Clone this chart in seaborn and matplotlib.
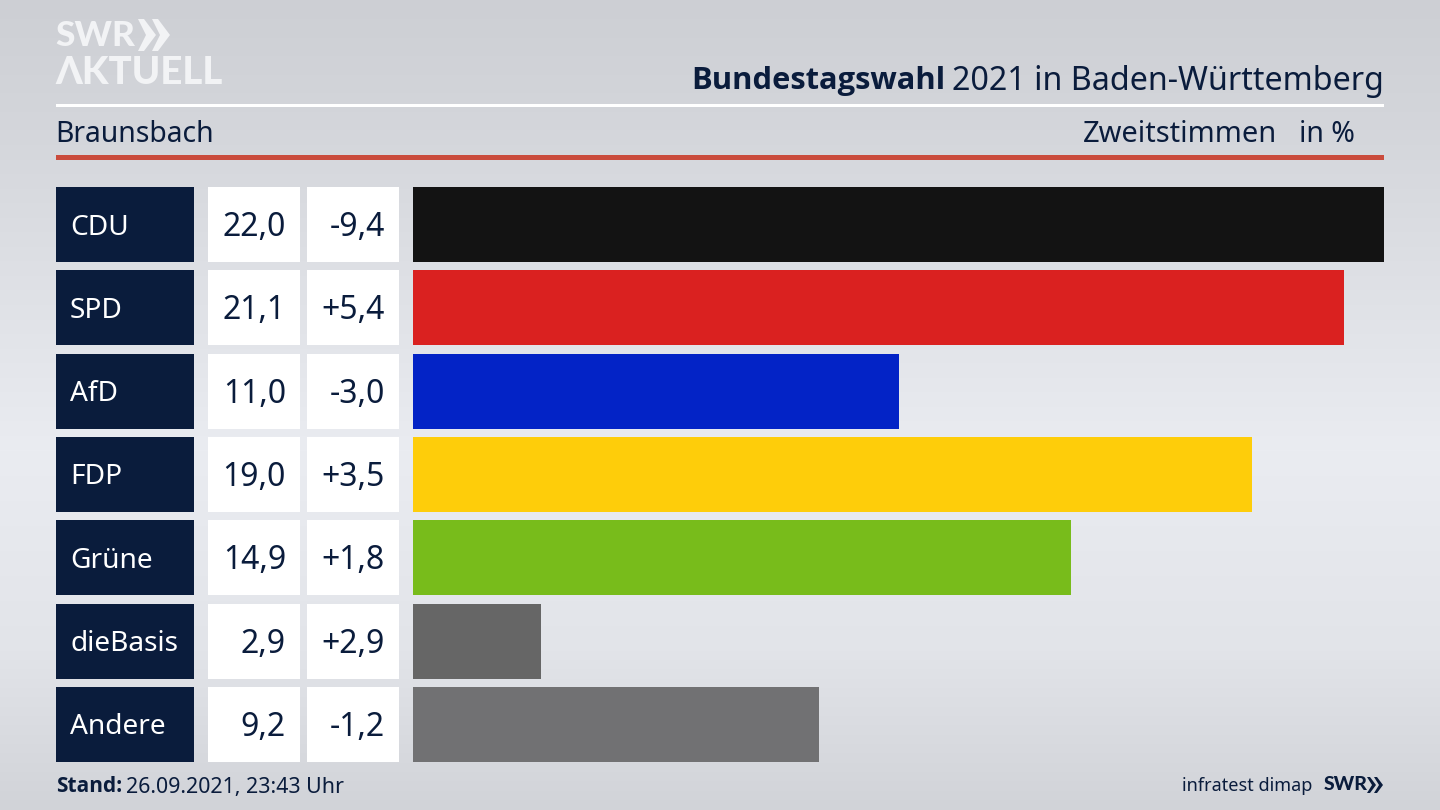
import numpy as np
import pandas as pd
import matplotlib.pyplot as plt
import seaborn as sns
from matplotlib.patches import Rectangle, Polygon

parties = ["CDU", "SPD", "AfD", "FDP", "Grüne", "dieBasis", "Andere"]
shares = [22.0, 21.1, 11.0, 19.0, 14.9, 2.9, 9.2]
changes = ["-9,4", "+5,4", "-3,0", "+3,5", "+1,8", "+2,9", "-1,2"]
colors = ["#131313", "#da2120", "#0323c6", "#fecd0a", "#78bc1b", "#666666", "#717173"]

title_bold = "Bundestagswahl"
title_rest = "2021 in Baden-Württemberg"
place = "Braunsbach"
NAVY = "#0a1c3c"
W, H = 1440, 810

sns.set_theme(style="white")
plt.rcParams["font.family"] = ["Noto Sans", "DejaVu Sans"]
BOLD = ["Open Sans", "DejaVu Sans"]
HEAVY = ["Lato", "DejaVu Sans"]

fig = plt.figure(figsize=(14.4, 8.1), dpi=100)

# Hintergrund und alles was nicht Daten sind, in Pixelkoordinaten
bg = fig.add_axes([0, 0, 1, 1])
bg.set_xlim(0, W)
bg.set_ylim(H, 0)
bg.axis("off")
grad = np.interp(np.arange(H), [0, 130, 450, 650, 809], [205, 212, 234, 226, 209])
rgb = np.stack([grad, grad + 2, grad + 7], axis=1)[:, None, :] / 255
bg.imshow(np.clip(rgb, 0, 1), extent=[0, W, H, 0], aspect="auto", zorder=0)

# Kopf
bg.add_patch(Rectangle((56, 104), 1328, 3, color="white", lw=0))
bg.add_patch(Rectangle((56, 155), 1328, 5, color="#ca4b3c", lw=0))
logo = "#f2f3f5"
bg.text(55, 36, "SWR", color=logo, fontsize=25.5, family=HEAVY, fontweight="black", va="center", ha="left")
for dx in (0, 14):
    x0 = 138 + dx
    bg.add_patch(Polygon([(x0, 19), (x0 + 6, 19), (x0 + 18, 35), (x0 + 6, 51), (x0, 51), (x0 + 8, 35)],
                         closed=True, color=logo, lw=0))
bg.text(55, 73, "ΛKTUELL", color=logo, fontsize=27.6, family=HEAVY, fontweight="black", va="center", ha="left")

bg.text(945, 81, title_bold, color=NAVY, fontsize=22.2, family=BOLD, fontweight="bold", va="center", ha="right")
bg.text(1384, 81, title_rest, color=NAVY, fontsize=23.2, va="center", ha="right")
bg.text(55, 135, place, color=NAVY, fontsize=20.4, va="center", ha="left")
bg.text(1277, 135, "Zweitstimmen", color=NAVY, fontsize=20.9, va="center", ha="right")
bg.text(1355, 135, "in %", color=NAVY, fontsize=20.5, va="center", ha="right")

# Fuss
bg.text(56, 787, "Stand:", color=NAVY, fontsize=15, family=BOLD, fontweight="bold", va="center", ha="left")
bg.text(126, 787, "26.09.2021, 23:43 Uhr", color=NAVY, fontsize=15.4, va="center", ha="left")
bg.text(1312, 786, "infratest dimap", color=NAVY, fontsize=13, va="center", ha="right")
bg.text(1324, 785, "SWR", color=NAVY, fontsize=14, family=HEAVY, fontweight="black", va="center", ha="left")
for dx in (0, 7):
    x0 = 1367 + dx
    bg.add_patch(Polygon([(x0, 777), (x0 + 3, 777), (x0 + 9, 785), (x0 + 3, 793), (x0, 793), (x0 + 5, 785)],
                         closed=True, color=NAVY, lw=0))

# Balken
top = 183.0
bottom = 766.0
left = 413.0
right = 1384.0
ax = fig.add_axes([left / W, 1 - bottom / H, (right - left) / W, (bottom - top) / H])
df = pd.DataFrame({"party": parties, "share": shares})
sns.barplot(data=df, y="party", x="share", hue="party", palette=colors, legend=False,
            width=0.9, saturation=1, linewidth=0, ax=ax)
ax.set_xlim(0, max(shares))
ax.set_ylim(len(parties) - 0.5, -0.5)
ax.axis("off")
ax.patch.set_alpha(0)

# Tabelle links: Zeilen folgen den Balken
pitch = (bottom - top) / len(parties)
cell_h = pitch * 0.9
for i, party in enumerate(parties):
    cy = top + pitch * (i + 0.5)
    y0 = cy - cell_h / 2
    bg.add_patch(Rectangle((56, y0), 138, cell_h, color=NAVY, lw=0, zorder=2))
    bg.add_patch(Rectangle((208, y0), 92, cell_h, color="white", lw=0, zorder=2))
    bg.add_patch(Rectangle((307, y0), 92, cell_h, color="white", lw=0, zorder=2))
    bg.text(70, cy + 3, party, color="white", fontsize=20.2, va="center", ha="left", zorder=3)
    bg.text(286, cy + 3, f"{shares[i]:.1f}".replace(".", ","), color=NAVY, fontsize=23,
            va="center", ha="right", zorder=3)
    bg.text(385, cy + 3, changes[i], color=NAVY, fontsize=23, va="center", ha="right", zorder=3)

fig.savefig("out.png", dpi=100)
